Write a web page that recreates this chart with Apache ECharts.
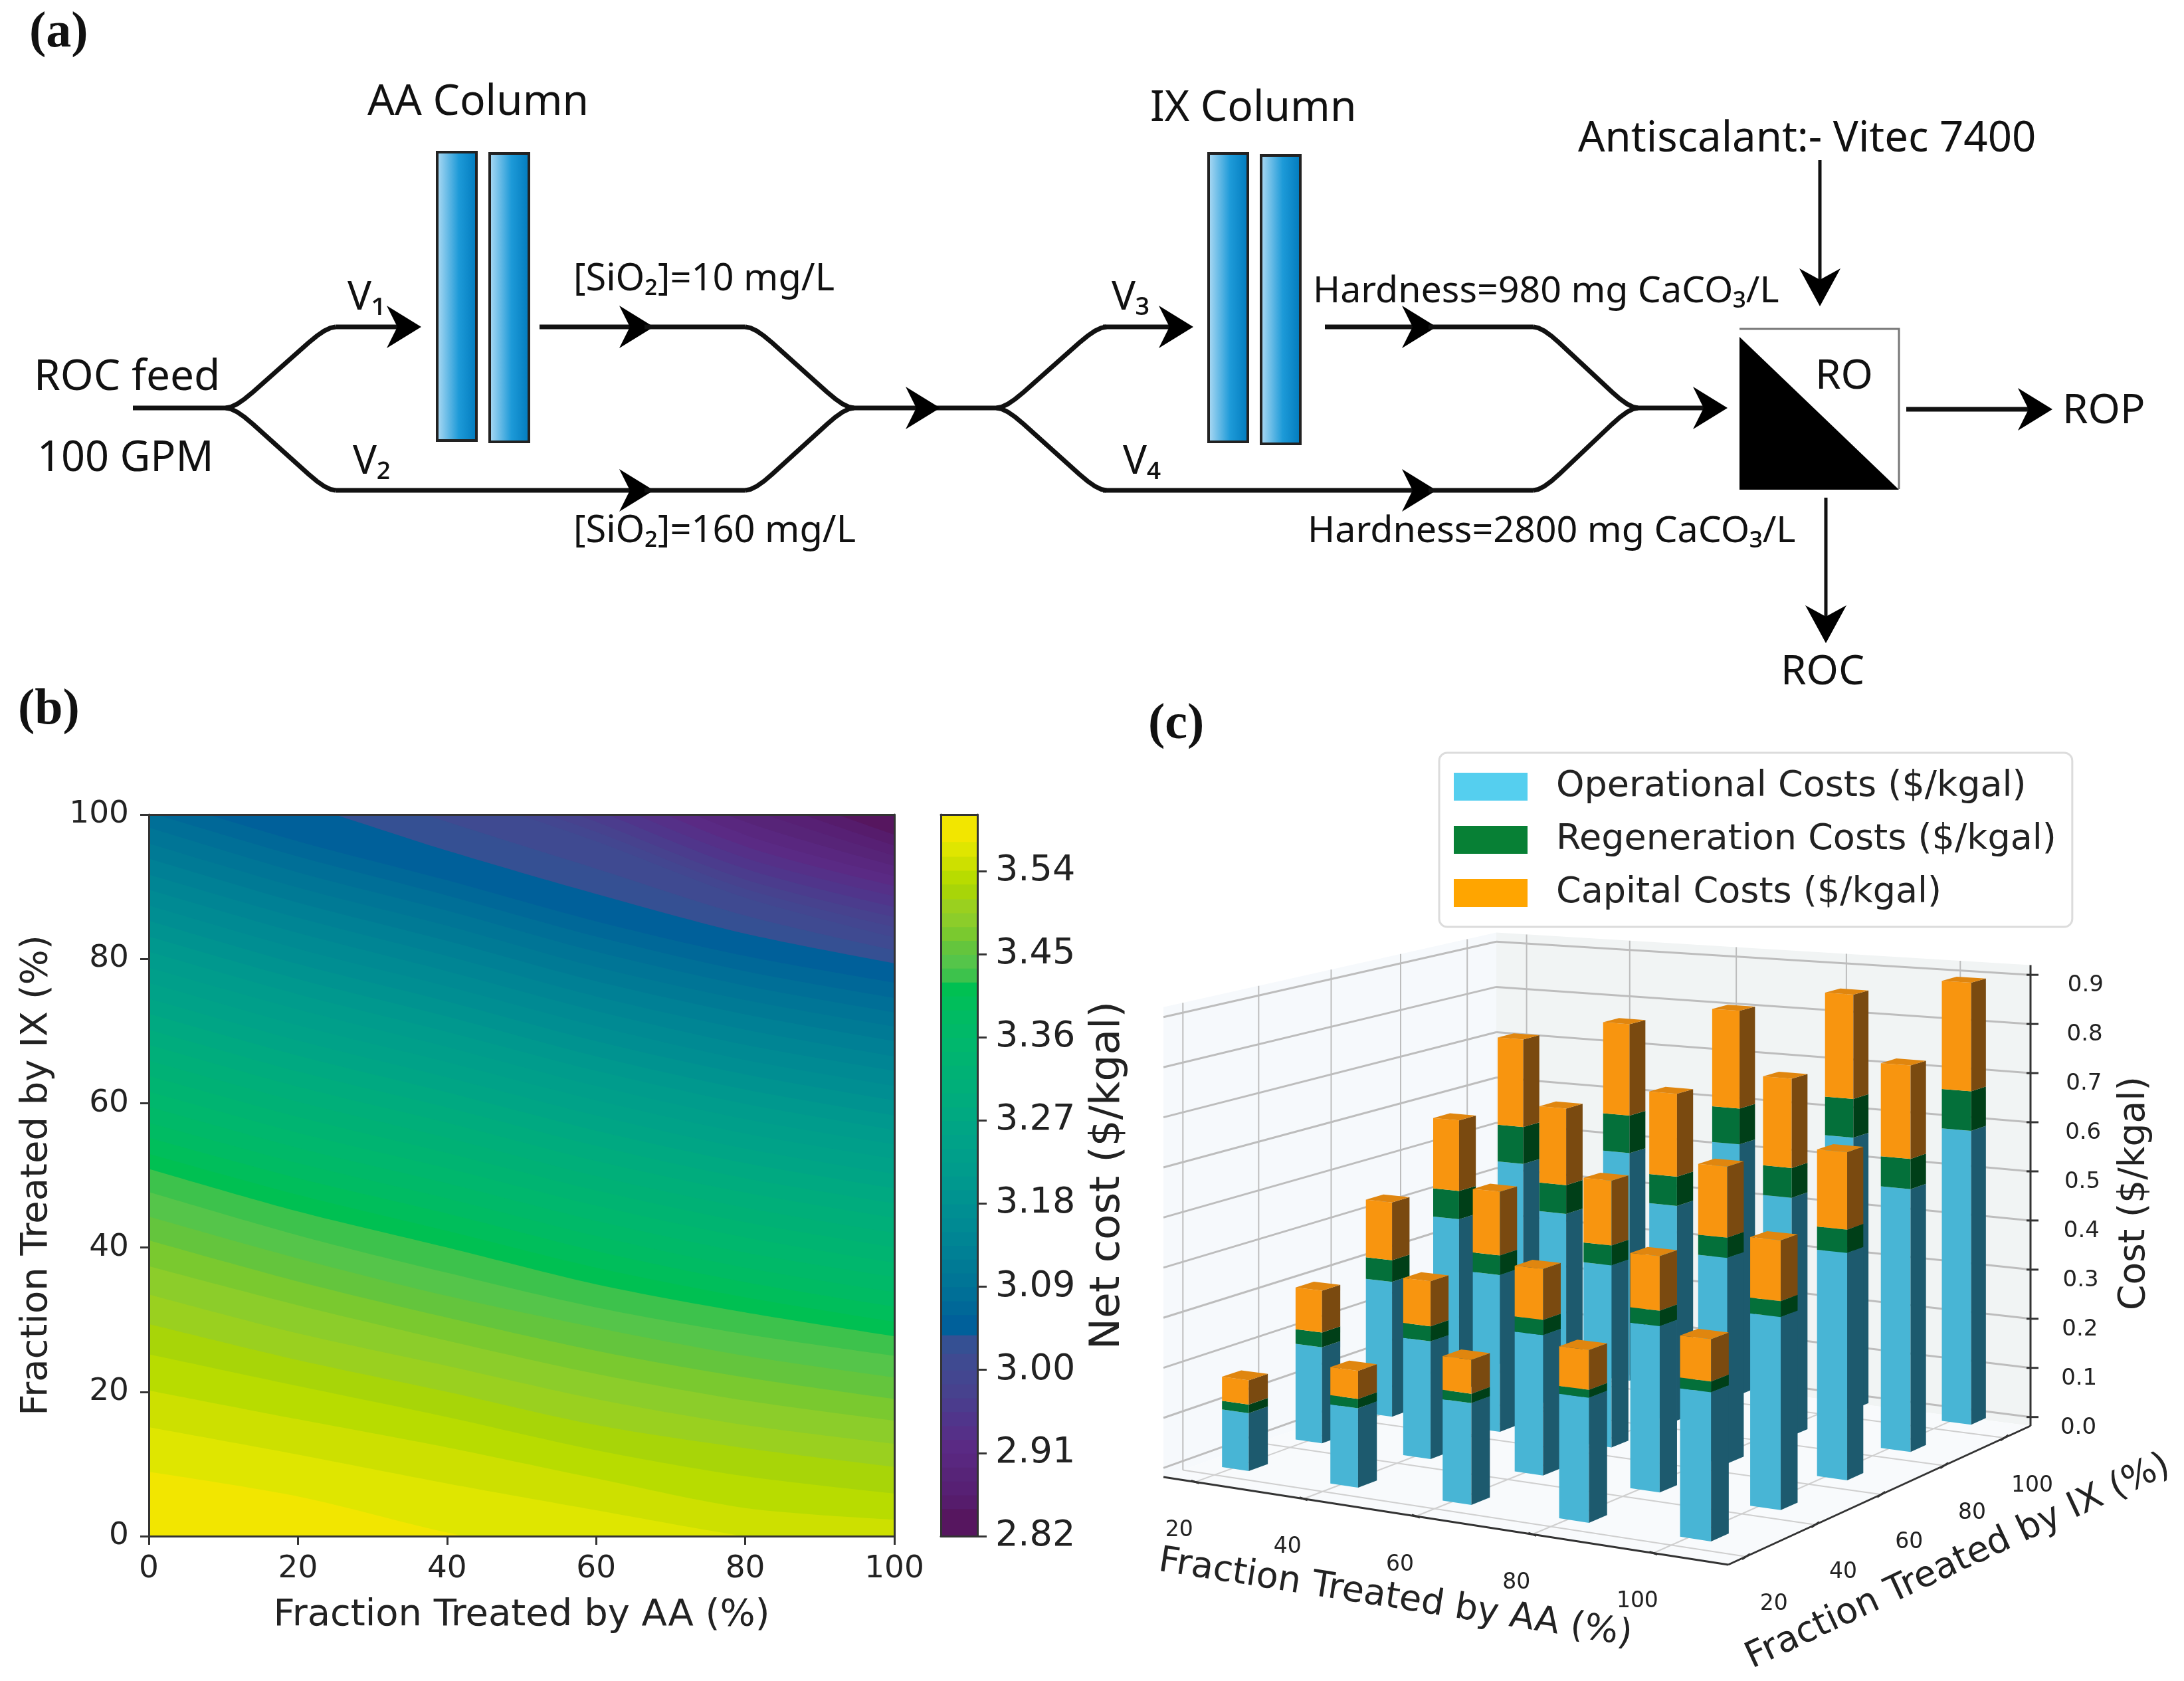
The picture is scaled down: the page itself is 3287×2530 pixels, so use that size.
<!DOCTYPE html>
<html>
<head>
<meta charset="utf-8">
<title>Net cost chart</title>
<script src="https://cdn.jsdelivr.net/npm/echarts@6/dist/echarts.min.js"></script>
<style>
  html, body { margin: 0; padding: 0; background: #fff; }
  #chart { width: 3287px; height: 2530px; }
</style>
</head>
<body>
<div id="chart"></div>
<script>
// ---------- panel (b) data: contour lines ----------
var contourAA = [0, 20, 40, 60, 80, 100];
// IX fraction of each cost level at the AA fractions above (over 100 or under 0 = off the plot)
var contourLevels = [2.85, 2.865, 2.88, 2.895, 2.91, 2.925, 2.94, 2.955, 2.97, 2.985, 3.0, 3.018, 3.038, 3.06, 3.075, 3.09, 3.105, 3.12,
  3.135, 3.15, 3.165, 3.18, 3.195, 3.21, 3.225, 3.24, 3.255, 3.27, 3.285, 3.3, 3.315, 3.33, 3.345, 3.36, 3.375, 3.39, 3.405,
  3.42, 3.435, 3.45, 3.465, 3.48, 3.495, 3.51, 3.526, 3.541, 3.556, 3.572];
var contourIX = [
  [155, 143, 130, 116, 105, 97.2],
  [152, 140, 127, 113, 103, 95.7],
  [150, 138, 124, 110, 101, 94.3],
  [147, 135, 122, 108, 99, 92.9],
  [145, 132, 120, 106.5, 97.2, 91.5],
  [141, 128, 116, 104.5, 95.6, 90.1],
  [138, 125, 113, 102.5, 94, 88.7],
  [134, 121, 110, 100.7, 92.5, 87.2],
  [130, 118, 107, 99, 91, 85.8],
  [126, 115, 105, 97.6, 89.7, 84.4],
  [122, 112, 103.5, 96.3, 88.5, 83],
  [114, 106, 99, 92.5, 86, 81.2],
  [106.5, 101.5, 95, 89, 83.5, 79.4],
  [102.5, 96.3, 90.9, 85.2, 80.4, 76.7],
  [100.3, 94.2, 88.8, 83.1, 78.3, 74.6],
  [98.2, 92, 86.7, 81, 76.3, 72.6],
  [96, 89.9, 84.6, 78.9, 74.3, 70.6],
  [93.9, 87.8, 82.5, 76.9, 72.3, 68.6],
  [91.7, 85.7, 80.4, 74.8, 70.2, 66.5],
  [89.6, 83.6, 78.3, 72.8, 68.1, 64.5],
  [87.4, 81.4, 76.2, 70.7, 66, 62.4],
  [85.3, 79.3, 74.1, 68.6, 64, 60.4],
  [83.1, 77.2, 72, 66.5, 61.9, 58.3],
  [81, 75.1, 69.9, 64.5, 59.9, 56.3],
  [78.8, 73, 67.8, 62.4, 57.8, 54.3],
  [76.7, 70.8, 65.7, 60.4, 55.8, 52.3],
  [74.5, 68.7, 63.6, 58.3, 53.7, 50.2],
  [72.4, 66.6, 61.5, 56.2, 51.7, 48.2],
  [70.2, 64.4, 59.4, 54.1, 49.6, 46.1],
  [68.1, 62.3, 57.3, 52, 47.6, 44.1],
  [65.9, 60.2, 55.2, 49.9, 45.5, 42],
  [63.8, 58.1, 53.1, 47.9, 43.5, 40],
  [61.6, 55.9, 51, 45.8, 41.4, 37.9],
  [59.5, 53.8, 48.9, 43.7, 39.3, 35.9],
  [57.3, 51.7, 46.8, 41.6, 37.2, 33.8],
  [55.2, 49.6, 44.7, 39.5, 35.2, 31.8],
  [53, 47.3, 42.3, 37.2, 33.1, 29.7],
  [50.9, 45, 40, 34.9, 31, 27.7],
  [47.7, 41.7, 36.5, 31.7, 28, 25],
  [44.3, 38.5, 33.3, 28.9, 25, 22],
  [41, 35.3, 30.3, 25.7, 22, 19],
  [37.4, 32, 27.1, 22.5, 18.8, 16],
  [33.5, 28.1, 23.6, 19, 15.4, 12.8],
  [29.4, 24.4, 20, 15.4, 12.2, 9.6],
  [25.2, 20.8, 16.5, 11.9, 8.3, 5.9],
  [20.2, 16.2, 12.3, 8, 3.9, 2.3],
  [15.1, 11.3, 7.3, 3.6, 0, -2.5],
  [8.9, 5.5, 0.5, -3.5, -8, -12]
];
// first colour is the band under the lowest level, then one per level
var bandColors = ['#56165f', '#561c6c', '#572074', '#572478', '#59277f', '#5a2a84', '#553088', '#50358b', '#4b3c8d', '#47428e', '#434690',
  '#3f4a91', '#355093', '#00609a', '#006898', '#006f97', '#007596', '#007a95', '#008095', '#008594', '#008a93', '#008e92', '#009390',
  '#00988e', '#009c8c', '#009f8a', '#00a288', '#00a585', '#00a981', '#00ac7d', '#00af79', '#00b175', '#00b471', '#00b76d', '#00b968',
  '#00bb63', '#00be5b', '#00c052',
  '#3dc24c', '#55c54a', '#64c53d', '#7ac92f', '#8ccd2a', '#9ad01f', '#a8d508', '#b8dc00', '#cde000', '#dfe600', '#f2e600'];
var colorbarMin = 2.82;
var colorbarMax = 3.601;
var colorbarTicks = [2.82, 2.91, 3.0, 3.09, 3.18, 3.27, 3.36, 3.45, 3.54];

// ---------- panel (c) data: rows are IX 20..100, columns are AA 20..100 ----------
var barAA = [20, 40, 60, 80, 100];
var barIX = [20, 40, 60, 80, 100];
var operationalCosts = [
  [0.115, 0.155, 0.195, 0.235, 0.275],
  [0.195, 0.235, 0.275, 0.32, 0.365],
  [0.28, 0.32, 0.365, 0.405, 0.44],
  [0.365, 0.40, 0.44, 0.48, 0.52],
  [0.44, 0.485, 0.525, 0.56, 0.595]
];
var regenerationCosts = [
  [0.017, 0.018, 0.018, 0.015, 0.02],
  [0.03, 0.03, 0.03, 0.03, 0.03],
  [0.045, 0.04, 0.04, 0.04, 0.045],
  [0.06, 0.06, 0.06, 0.06, 0.06],
  [0.08, 0.08, 0.075, 0.08, 0.08]
];
var capitalCosts = [
  [0.048, 0.055, 0.065, 0.075, 0.078],
  [0.085, 0.09, 0.10, 0.105, 0.115],
  [0.12, 0.13, 0.13, 0.14, 0.15],
  [0.15, 0.16, 0.17, 0.18, 0.185],
  [0.19, 0.195, 0.205, 0.215, 0.22]
];
var costTicks = [0, 0.1, 0.2, 0.3, 0.4, 0.5, 0.6, 0.7, 0.8, 0.9];
var aaTicks = [20, 40, 60, 80, 100];
var ixTicks = [20, 40, 60, 80, 100];

var mplFont = '"DejaVu Sans"';
var diagramFont = '"Noto Sans"';

// ---------- floor of the 3d box in page pixels, perspective map from the unit square ----------
var aaRange = [14, 112], ixRange = [15, 109], zRange = [-0.018, 0.92];
var barSize = 5;
var barShift = 1.4;
var zUnit = 754;
var c0 = [1751, 2223], c1 = [2601, 2355], c2 = [3056, 2146], c3 = [2252, 2043];
var sx = c0[0] - c1[0] + c2[0] - c3[0], sy = c0[1] - c1[1] + c2[1] - c3[1];
var dx1 = c1[0] - c2[0], dx2 = c3[0] - c2[0], dy1 = c1[1] - c2[1], dy2 = c3[1] - c2[1];
var den = dx1 * dy2 - dx2 * dy1;
var pg = (sx * dy2 - dx2 * sy) / den, ph = (dx1 * sy - sx * dy1) / den;
var pa = c1[0] - c0[0] + pg * c1[0], pb = c3[0] - c0[0] + ph * c3[0];
var pd = c1[1] - c0[1] + pg * c1[1], pe = c3[1] - c0[1] + ph * c3[1];

function project(aa, ix, z) {
  var u = (aa - aaRange[0]) / (aaRange[1] - aaRange[0]);
  var v = (ix - ixRange[0]) / (ixRange[1] - ixRange[0]);
  var w = pg * u + ph * v + 1;
  return [(pa * u + pb * v + c0[0]) / w, (pd * u + pe * v + c0[1]) / w - (z - zRange[0]) * zUnit / w];
}

// bars of one cost kind, [aa, ix, zFrom, zTo, drawRank]
function barRows(kind) {
  var rows = [];
  barIX.forEach(function (ix, i) {
    barAA.forEach(function (aa, j) {
      var op = operationalCosts[i][j], re = regenerationCosts[i][j], ca = capitalCosts[i][j];
      var from = kind === 0 ? 0 : kind === 1 ? op : op + re;
      var to = kind === 0 ? op : kind === 1 ? op + re : op + re + ca;
      rows.push([aa, ix, from, to, ((4 - i) * 5 + j) * 4 + kind + 10]);
    });
  });
  return rows;
}

function renderBar(front, side, top) {
  return function (params, api) {
    var i = api.value(1), z0 = api.value(2), z1 = api.value(3), rank = api.value(4);
    // the far left bars sit a little closer to the tick than the near right ones
    var a = api.value(0) + barShift * (1 - (i - 20) / 80 * (100 - api.value(0)) / 80);
    var s = barSize;
    function p(aa, ix, z) { return api.coord(project(aa, ix, z)); }
    var kids = [
      { type: 'polygon', z2: rank, shape: { points: [p(a, i, z0), p(a + s, i, z0), p(a + s, i, z1), p(a, i, z1)] }, style: { fill: front } },
      { type: 'polygon', z2: rank, shape: { points: [p(a + s, i, z0), p(a + s, i + s, z0), p(a + s, i + s, z1), p(a + s, i, z1)] }, style: { fill: side } }
    ];
    if (top) {
      kids.push({ type: 'polygon', z2: rank, shape: { points: [p(a, i, z1), p(a + s, i, z1), p(a + s, i + s, z1), p(a, i + s, z1)] }, style: { fill: top } });
    }
    return { type: 'group', children: kids };
  };
}

// walls, grid lines, ticks and tick labels of the 3d box
function renderBox(params, api) {
  function p(aa, ix, z) { return api.coord(project(aa, ix, z)); }
  var a0 = aaRange[0], a1 = aaRange[1], i0 = ixRange[0], i1 = ixRange[1], z0 = zRange[0], z1 = zRange[1];
  var kids = [];
  function poly(pts, fill) { kids.push({ type: 'polygon', shape: { points: pts }, style: { fill: fill } }); }
  function seg(a, b, color, w) {
    kids.push({ type: 'line', shape: { x1: a[0], y1: a[1], x2: b[0], y2: b[1] }, style: { stroke: color, lineWidth: w } });
  }
  function label(text, pos, dx, dy, size) {
    kids.push({ type: 'text', x: pos[0] + dx, y: pos[1] + dy, style: { text: text, fontSize: size, fontFamily: mplFont, fill: '#222', align: 'center', verticalAlign: 'middle' } });
  }
  poly([p(a0, i0, z0), p(a0, i1, z0), p(a0, i1, z1), p(a0, i0, z1)], '#f6f9fc');
  poly([p(a0, i1, z0), p(a1, i1, z0), p(a1, i1, z1), p(a0, i1, z1)], '#f1f4f4');
  poly([p(a0, i0, z0), p(a1, i0, z0), p(a1, i1, z0), p(a0, i1, z0)], '#f8fafc');
  var gridColor = '#bdbdbd';
  costTicks.forEach(function (z) {
    seg(p(a0, i0, z), p(a0, i1, z), gridColor, 3);
    seg(p(a0, i1, z), p(a1, i1, z), gridColor, 3);
  });
  aaTicks.forEach(function (aa) {
    seg(p(aa, i0, z0), p(aa, i1, z0), '#cfcfcf', 2);
    seg(p(aa, i1, z0), p(aa, i1, z1), gridColor, 2);
  });
  ixTicks.forEach(function (ix) {
    seg(p(a0, ix, z0), p(a1, ix, z0), '#cfcfcf', 2);
    seg(p(a0, ix, z0), p(a0, ix, z1), gridColor, 2);
  });
  seg(p(a0, i0, z0), p(a1, i0, z0), '#333', 3);
  seg(p(a1, i0, z0), p(a1, i1, z0), '#333', 3);
  seg(p(a1, i1, z0), p(a1, i1, z1), '#333', 3);
  aaTicks.forEach(function (aa) {
    var t = p(aa, i0, z0);
    seg([t[0] - 6, t[1] - 2], [t[0] + 6, t[1] + 2], '#333', 3);
    label(String(aa), t, -24, 73, 33);
  });
  ixTicks.forEach(function (ix) {
    var t = p(a1, ix, z0);
    seg([t[0] - 6, t[1] + 4], [t[0] + 6, t[1] - 4], '#333', 3);
    label(String(ix), t, 42, 72, 33);
  });
  costTicks.forEach(function (z) {
    var t = p(a1, i1, z);
    seg([t[0] - 6, t[1]], [t[0] + 12, t[1]], '#333', 3);
    label(z.toFixed(1), t, 72 + z * 12, 16, 34);
  });
  return { type: 'group', children: kids };
}

// ---------- panel (a): process diagram helpers ----------
var pipe = { stroke: '#111', lineWidth: 7, fill: 'none' };
function line(x1, y1, x2, y2) {
  return { type: 'line', shape: { x1: x1, y1: y1, x2: x2, y2: y2 }, style: pipe };
}
// s-bend: tight round corner, straight diagonal, tight round corner
function curve(x1, y1, x2, y2) {
  var dx = x2 - x1, dy = y2 - y1;
  return {
    type: 'polyline',
    shape: { points: bendPoints(x1, y1, dx, dy) },
    style: pipe
  };
}
function bendPoints(x1, y1, dx, dy) {
  var pts = [];
  function q(a, c, b, t) { return (1 - t) * (1 - t) * a + 2 * (1 - t) * t * c + t * t * b; }
  [0, 0.25, 0.5, 0.75, 1].forEach(function (t) {
    pts.push([x1 + dx * q(0, 0.083, 0.25, t), y1 + dy * q(0, 0, 0.2, t)]);
  });
  [0, 0.25, 0.5, 0.75, 1].forEach(function (t) {
    pts.push([x1 + dx * q(0.75, 0.917, 1, t), y1 + dy * q(0.8, 1, 1, t)]);
  });
  return pts;
}
function arrowRight(tip, y) {
  return { type: 'polygon', shape: { points: [[tip, y], [tip - 52, y - 32], [tip - 36, y], [tip - 52, y + 32]] }, style: { fill: '#000' } };
}
function arrowDown(x, tip) {
  return { type: 'polygon', shape: { points: [[x, tip], [x - 31, tip - 57], [x, tip - 40], [x + 31, tip - 57]] }, style: { fill: '#000' } };
}
function column(x, y, w, h) {
  return {
    type: 'rect', shape: { x: x, y: y, width: w, height: h },
    style: {
      stroke: '#222', lineWidth: 4,
      fill: new echarts.graphic.LinearGradient(0, 0, 1, 0, [
        { offset: 0, color: '#b4ddf5' }, { offset: 0.55, color: '#1d9ad8' }, { offset: 1, color: '#0079bc' }
      ])
    }
  };
}
function text(str, x, y, size, font, weight) {
  return { type: 'text', x: x, y: y, z: 20, style: { text: str, fontSize: size, fontFamily: font || diagramFont, fontWeight: weight || 'normal', fill: '#111', verticalAlign: 'middle' } };
}

var topY = 492, midY = 614, lowY = 738;
var diagram = [
  line(200, midY, 347, midY),
  curve(340, midY, 505, topY), line(505, topY, 600, topY), arrowRight(634, topY),
  curve(340, midY, 505, lowY), line(505, lowY, 960, lowY), arrowRight(984, lowY),
  line(812, topY, 960, topY), arrowRight(984, topY),
  line(970, topY, 1122, topY), curve(1122, topY, 1285, midY),
  line(970, lowY, 1122, lowY), curve(1122, lowY, 1285, midY),
  line(1280, midY, 1510, midY), arrowRight(1415, midY),
  curve(1500, midY, 1665, topY), line(1660, topY, 1765, topY), arrowRight(1796, topY),
  curve(1500, midY, 1665, lowY), line(1660, lowY, 2140, lowY), arrowRight(2162, lowY),
  line(1994, topY, 2140, topY), arrowRight(2162, topY),
  line(2150, topY, 2308, topY), curve(2308, topY, 2465, midY),
  line(2150, lowY, 2308, lowY), curve(2308, lowY, 2465, midY),
  line(2460, midY, 2570, midY), arrowRight(2600, midY),
  column(658, 229, 59, 434), column(737, 231, 59, 434),
  column(1819, 231, 59, 434), column(1898, 234, 59, 434),
  { type: 'polyline', shape: { points: [[2618, 495], [2858, 495], [2858, 736]] }, style: { stroke: '#777', lineWidth: 3, fill: 'none' } },
  { type: 'polygon', shape: { points: [[2618, 507], [2618, 737], [2858, 737]] }, style: { fill: '#000' } },
  { type: 'line', shape: { x1: 2739, y1: 241, x2: 2739, y2: 430 }, style: { stroke: '#111', lineWidth: 5 } },
  arrowDown(2739, 461),
  { type: 'line', shape: { x1: 2748, y1: 749, x2: 2748, y2: 935 }, style: { stroke: '#111', lineWidth: 5 } },
  arrowDown(2748, 968),
  line(2869, 616, 3060, 616), arrowRight(3089, 616),

  text('(a)', 44, 50, 76, '"Liberation Serif"', 'bold'),
  text('(b)', 27, 1069, 76, '"Liberation Serif"', 'bold'),
  text('(c)', 1728, 1091, 76, '"Liberation Serif"', 'bold'),
  text('AA Column', 553, 155, 64),
  text('IX Column', 1731, 164, 64),
  text('Antiscalant:- Vitec 7400', 2375, 210, 63.5),
  text('ROC feed', 51, 569, 64),
  text('100 GPM', 56, 691, 63),
  text('V₁', 523, 449, 60),
  text('V₂', 531, 696, 60),
  text('V₃', 1673, 449, 60),
  text('V₄', 1690, 696, 60),
  text('[SiO₂]=10 mg/L', 863, 421, 56),
  text('[SiO₂]=160 mg/L', 863, 800, 56),
  text('Hardness=980 mg CaCO₃/L', 1976, 439, 55.5),
  text('Hardness=2800 mg CaCO₃/L', 1968, 800, 55.6),
  text('RO', 2732, 567, 62),
  text('ROP', 3104, 619, 62),
  text('ROC', 2680, 1012, 62),
  { type: 'text', x: 2100, y: 2406, z: 20, rotation: -9 * Math.PI / 180, style: { text: 'Fraction Treated by AA (%)', fontSize: 54, fontFamily: mplFont, fill: '#222', align: 'center', verticalAlign: 'middle' } },
  { type: 'text', x: 2947, y: 2351, z: 20, rotation: 25 * Math.PI / 180, style: { text: 'Fraction Treated by IX (%)', fontSize: 54, fontFamily: mplFont, fill: '#222', align: 'center', verticalAlign: 'middle' } },
  { type: 'text', x: 3213, y: 1796, z: 20, rotation: 90 * Math.PI / 180, style: { text: 'Cost ($/kgal)', fontSize: 55, fontFamily: mplFont, fill: '#222', align: 'center', verticalAlign: 'middle' } }
];

// ---------- series ----------
var contourSeries = contourLevels.map(function (level, k) {
  return {
    name: 'level ' + level,
    type: 'line',
    xAxisIndex: 0,
    yAxisIndex: 0,
    data: contourAA.map(function (aa, n) { return [aa, contourIX[k][n]]; }),
    smooth: 0.3,
    showSymbol: false,
    silent: true,
    clip: true,
    lineStyle: { width: 0 },
    areaStyle: { color: bandColors[k + 1], opacity: 1, origin: 'start' },
    z: 2 + k * 0.01
  };
});

var colorbarRows = bandColors.map(function (c, k) {
  return [0, k === 0 ? colorbarMin : contourLevels[k - 1], 1, k === bandColors.length - 1 ? colorbarMax : contourLevels[k], k];
});

function frameAxis(grid, pos, min, max) {
  return {
    type: 'value', gridIndex: grid, position: pos, min: min, max: max, z: 10,
    axisLine: { show: true, onZero: false, lineStyle: { color: '#333', width: 3 } },
    axisTick: { show: false }, axisLabel: { show: false }, splitLine: { show: false }
  };
}
function tickStyle(size) {
  return { fontSize: size, fontFamily: mplFont, color: '#222' };
}

var option = {
  animation: false,
  backgroundColor: '#fff',
  grid: [
    { left: 224, top: 1226, width: 1122, height: 1086, show: true, backgroundColor: bandColors[0], borderWidth: 0 },
    { left: 1416, top: 1226, width: 55, height: 1086 },
    { left: 0, top: 0, width: 3287, height: 2530 }
  ],
  xAxis: [
    {
      type: 'value', gridIndex: 0, min: 0, max: 100, interval: 20, z: 10,
      name: 'Fraction Treated by AA (%)', nameLocation: 'middle', nameGap: 91,
      nameTextStyle: tickStyle(56),
      axisLine: { show: true, onZero: false, lineStyle: { color: '#333', width: 3 } },
      axisTick: { show: true, length: 13, lineStyle: { color: '#333', width: 3 } },
      axisLabel: Object.assign({ margin: 26 }, tickStyle(47)),
      splitLine: { show: false }
    },
    frameAxis(0, 'top', 0, 100),
    frameAxis(1, 'bottom', 0, 1),
    frameAxis(1, 'top', 0, 1),
    { type: 'value', gridIndex: 2, min: 0, max: 3287, show: false }
  ],
  yAxis: [
    {
      type: 'value', gridIndex: 0, min: 0, max: 100, interval: 20, z: 10,
      name: 'Fraction Treated by IX (%)', nameLocation: 'middle', nameGap: 141, nameRotate: 90,
      nameTextStyle: tickStyle(56),
      axisLine: { show: true, onZero: false, lineStyle: { color: '#333', width: 3 } },
      axisTick: { show: true, length: 13, lineStyle: { color: '#333', width: 3 } },
      axisLabel: Object.assign({ margin: 30, padding: [10, 0, 0, 0] }, tickStyle(47)),
      splitLine: { show: false }
    },
    frameAxis(0, 'right', 0, 100),
    {
      type: 'value', gridIndex: 1, position: 'right', min: colorbarMin, max: colorbarMax, z: 10,
      name: 'Net cost ($/kgal)', nameLocation: 'middle', nameGap: 165, nameRotate: 90,
      nameTextStyle: tickStyle(63),
      axisLine: { show: true, onZero: false, lineStyle: { color: '#333', width: 3 } },
      axisTick: { show: true, length: 14, customValues: colorbarTicks, lineStyle: { color: '#333', width: 3 } },
      axisLabel: Object.assign({ margin: 27, padding: [13, 0, 0, 0], customValues: colorbarTicks, formatter: function (v) { return v.toFixed(2); } }, tickStyle(54)),
      splitLine: { show: false }
    },
    frameAxis(1, 'left', colorbarMin, colorbarMax),
    { type: 'value', gridIndex: 2, min: 0, max: 2530, inverse: true, show: false }
  ],
  legend: {
    left: 2166, top: 1133, orient: 'vertical',
    data: ['Operational Costs ($/kgal)', 'Regeneration Costs ($/kgal)', 'Capital Costs ($/kgal)'],
    icon: 'rect', itemWidth: 111, itemHeight: 42, itemGap: 26,
    padding: [24, 24, 24, 22],
    backgroundColor: '#fff', borderColor: '#dcdcdc', borderWidth: 3, borderRadius: 12,
    selectedMode: false,
    textStyle: { fontSize: 54, fontFamily: mplFont, color: '#222', padding: [0, 0, 0, 38] }
  },
  graphic: { elements: diagram },
  series: contourSeries.concat([
    {
      name: 'colorbar', type: 'custom', xAxisIndex: 2, yAxisIndex: 2, silent: true, z: 2,
      data: colorbarRows,
      renderItem: function (params, api) {
        var a = api.coord([api.value(0), api.value(1)]);
        var b = api.coord([api.value(2), api.value(3)]);
        return {
          type: 'rect',
          shape: { x: a[0], y: b[1], width: b[0] - a[0], height: a[1] - b[1] + 1 },
          style: { fill: bandColors[api.value(4)] }
        };
      }
    },
    { name: 'box', type: 'custom', xAxisIndex: 4, yAxisIndex: 4, silent: true, z: 3, data: [[0, 0]], renderItem: renderBox },
    {
      name: 'Operational Costs ($/kgal)', type: 'custom', xAxisIndex: 4, yAxisIndex: 4, silent: true, z: 5,
      itemStyle: { color: '#55cfef' }, data: barRows(0), renderItem: renderBar('#48b5d5', '#1d5a6e', null)
    },
    {
      name: 'Regeneration Costs ($/kgal)', type: 'custom', xAxisIndex: 4, yAxisIndex: 4, silent: true, z: 5,
      itemStyle: { color: '#078035' }, data: barRows(1), renderItem: renderBar('#04703a', '#003f18', null)
    },
    {
      name: 'Capital Costs ($/kgal)', type: 'custom', xAxisIndex: 4, yAxisIndex: 4, silent: true, z: 5,
      itemStyle: { color: '#ffa500' }, data: barRows(2), renderItem: renderBar('#f8950f', '#7a4a10', '#e0860f')
    }
  ])
};

var chart = echarts.init(document.getElementById('chart'));
chart.setOption(option);
</script>
</body>
</html>
